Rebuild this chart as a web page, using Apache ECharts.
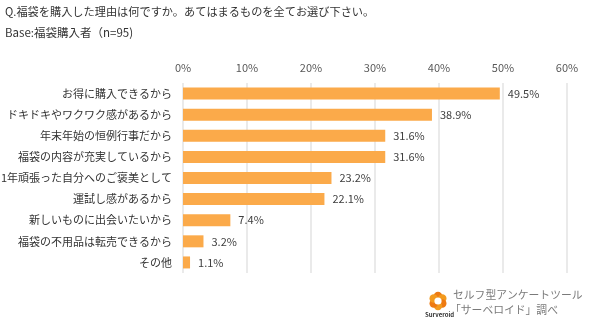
<!DOCTYPE html>
<html>
<head>
<meta charset="utf-8">
<script src="https://cdn.jsdelivr.net/npm/echarts@6/dist/echarts.min.js"></script>
<style>
  html, body { margin: 0; padding: 0; background: #fff; }
  #chart { width: 596px; height: 328px; }
</style>
</head>
<body>
<div id="chart"></div>
<script>
// Reasons for buying lucky bags (multiple answers, n=95)
const categories = [
  'お得に購入できるから',
  'ドキドキやワクワク感があるから',
  '年末年始の恒例行事だから',
  '福袋の内容が充実しているから',
  '1年頑張った自分へのご褒美として',
  '運試し感があるから',
  '新しいものに出会いたいから',
  '福袋の不用品は転売できるから',
  'その他'
];
const percentages = [49.5, 38.9, 31.6, 31.6, 23.2, 22.1, 7.4, 3.2, 1.1];
const axisTicks = [0, 10, 20, 30, 40, 50, 60];

const titleText = 'Q.福袋を購入した理由は何ですか。あてはまるものを全てお選び下さい。';
const baseText = 'Base:福袋購入者（n=95)';
const creditLines = ['セルフ型アンケートツール', '「サーベロイド」調べ'];

const FONT = '"Noto Sans CJK JP", "Noto Sans", sans-serif';
const chart = echarts.init(document.getElementById('chart'), null, { renderer: 'canvas' });

// Small flower-like logo built from petals around a centre
const petals = [];
const cx = 438, cy = 301;
for (let i = 0; i < 6; i++) {
  const a = (Math.PI * 2 * i) / 6 - Math.PI / 2;
  petals.push({
    type: 'circle',
    shape: { cx: cx + Math.cos(a) * 5, cy: cy + Math.sin(a) * 5, r: 4.2 },
    style: { fill: i % 2 ? '#f39a1e' : '#ee7a12' },
    silent: true
  });
}
petals.push({ type: 'circle', shape: { cx: cx, cy: cy, r: 3.6 }, style: { fill: '#fff' }, silent: true });

chart.setOption({
  animation: false,
  textStyle: { fontFamily: FONT },
  grid: { left: 183, right: 29, top: 83, bottom: 55, containLabel: false, outerBoundsMode: 'none' },
  xAxis: {
    type: 'value',
    position: 'top',
    min: axisTicks[0],
    max: axisTicks[axisTicks.length - 1],
    interval: 10,
    axisLine: { show: false },
    axisTick: { show: false },
    axisLabel: {
      formatter: v => v + '%',
      color: '#595959',
      fontSize: 11,
      fontFamily: FONT,
      margin: 10
    },
    splitLine: { show: true, lineStyle: { color: '#e3e3e3', width: 1.5 } }
  },
  yAxis: {
    type: 'category',
    data: categories,
    inverse: true,
    axisLine: { show: false },
    axisTick: { show: false },
    axisLabel: { color: '#333', fontSize: 11, fontFamily: FONT, margin: 11 }
  },
  series: [{
    type: 'bar',
    data: percentages,
    barWidth: 12,
    itemStyle: { color: '#fbaa4a' },
    label: {
      show: true,
      position: 'right',
      distance: 8,
      formatter: p => p.value.toFixed(1) + '%',
      color: '#404040',
      fontSize: 11,
      fontFamily: FONT
    }
  }],
  graphic: [
    { type: 'text', left: 5, top: 6, style: { text: titleText, fill: '#333', font: '11.2px ' + FONT } },
    { type: 'text', left: 5, top: 27, style: { text: baseText, fill: '#333', font: '11.5px ' + FONT } },
    ...petals,
    { type: 'text', left: 425, top: 312, style: { text: 'Surveroid', fill: '#333', font: 'bold 6px ' + FONT } },
    { type: 'text', left: 453, top: 290, style: { text: creditLines[0], fill: '#7a7a7a', font: '10.8px ' + FONT } },
    { type: 'text', left: 450, top: 305, style: { text: creditLines[1], fill: '#7a7a7a', font: '10.8px ' + FONT } }
  ]
});
</script>
</body>
</html>
